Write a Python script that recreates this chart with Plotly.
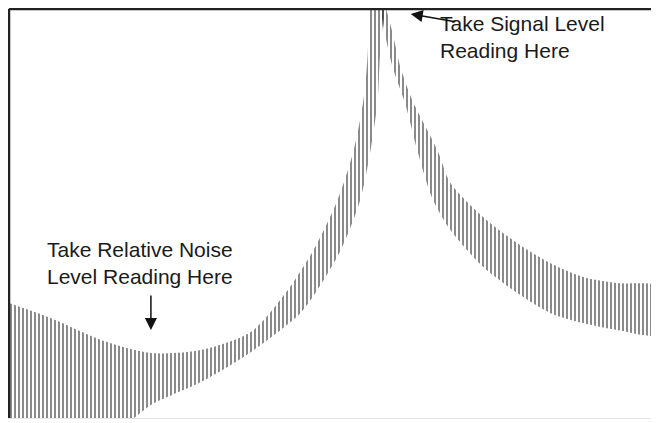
import plotly.graph_objects as go

# left lobe of the trace (noise floor rising into the carrier), outer edge then inner edge
left_outer_x = [0, 6.5, 14.2, 21.9, 29.6, 37.3, 42.7, 47.0, 50.7, 53.2, 54.7, 55.3, 55.5, 55.6]
left_outer_y = [28.1, 24.4, 19.1, 15.9, 16.6, 21.0, 30.6, 41.1, 53.3, 65.5, 77.8, 87.5, 94.9, 100]
left_inner_x = [57.8, 57.6, 57.2, 56.9, 55.8, 54.2, 51.2, 47.3, 45.0, 37.3, 29.6, 21.9, 19.3, 17.3, 0]
left_inner_y = [100, 94.9, 87.5, 77.8, 65.5, 53.3, 41.1, 30.6, 25.7, 16.1, 8.8, 3.2, 0, -2, -2]

# right lobe, upper edge then lower edge
right_upper_x = [58.2, 59.2, 60.4, 62.2, 66.1, 68.1, 73.2, 78.4, 83.5, 88.6, 93.8, 100.5]
right_upper_y = [100, 94.1, 85.8, 77.8, 65.5, 57.5, 49.1, 42.8, 37.9, 34.5, 33.0, 32.0]
right_lower_x = [100.5, 93.8, 88.6, 83.5, 78.4, 73.2, 68.1, 65.3, 63.0, 61.2, 59.2, 58.0, 57.3]
right_lower_y = [20.5, 21.5, 23.2, 25.7, 30.6, 36.9, 46.0, 53.8, 65.5, 76.5, 85.8, 94.1, 100]

signal_label = "Take Signal Level<br>Reading Here"
noise_label = "Take Relative Noise<br>Level Reading Here"
signal_point = (62.0, 98.8)
noise_point = (21.9, 21.5)

hatch = dict(shape="|", size=4, solidity=0.5, fgcolor="#151515", bgcolor="rgba(0,0,0,0)")

fig = go.Figure()
fig.add_trace(go.Scatter(
    x=left_outer_x + left_inner_x, y=left_outer_y + left_inner_y,
    fill="toself", fillcolor="rgba(0,0,0,0)", fillpattern=hatch,
    mode="lines", line=dict(width=0, shape="spline", smoothing=0.8),
    hoverinfo="skip", showlegend=False))
fig.add_trace(go.Scatter(
    x=right_upper_x + right_lower_x, y=right_upper_y + right_lower_y,
    fill="toself", fillcolor="rgba(0,0,0,0)", fillpattern=hatch,
    mode="lines", line=dict(width=0, shape="spline", smoothing=0.8),
    hoverinfo="skip", showlegend=False))

txt = dict(family="Liberation Sans, Arial, sans-serif", size=21, color="#1a1a1a")
fig.add_annotation(x=66.2, y=99.8, xref="x", yref="y", text=signal_label, showarrow=False,
                   xanchor="left", yanchor="top", align="left", font=txt)
fig.add_annotation(x=5.6, y=44.4, xref="x", yref="y", text=noise_label, showarrow=False,
                   xanchor="left", yanchor="top", align="left", font=txt)
# arrows
fig.add_annotation(x=signal_point[0], y=signal_point[1], xref="x", yref="y", text="",
                   showarrow=True, ax=46, ay=8, arrowhead=2, arrowsize=1.6, arrowwidth=1.5,
                   arrowcolor="#111")
fig.add_annotation(x=noise_point[0], y=noise_point[1], xref="x", yref="y", text="",
                   showarrow=True, ax=0, ay=-36, arrowhead=2, arrowsize=1.6, arrowwidth=1.5,
                   arrowcolor="#111")

# frame: heavy top and left, faint right and bottom
fig.add_shape(type="line", xref="paper", yref="paper", x0=0, x1=1, y0=1, y1=1,
              line=dict(color="#222", width=2.5))
fig.add_shape(type="line", xref="paper", yref="paper", x0=0, x1=0, y0=0, y1=1,
              line=dict(color="#222", width=2.5))

fig.update_xaxes(range=[0, 100], showgrid=False, zeroline=False, showticklabels=False,
                 ticks="", showline=True, linecolor="#e4e4e4", linewidth=1, mirror=True)
fig.update_yaxes(range=[0, 100], showgrid=False, zeroline=False, showticklabels=False,
                 ticks="", showline=True, linecolor="#e4e4e4", linewidth=1, mirror=True)
# page body adds 8px, so the figure is sized to the remaining window
fig.update_layout(width=651, height=415, margin=dict(l=1, r=2, t=1, b=5),
                  plot_bgcolor="white", paper_bgcolor="white")

fig.write_html("out.html")
